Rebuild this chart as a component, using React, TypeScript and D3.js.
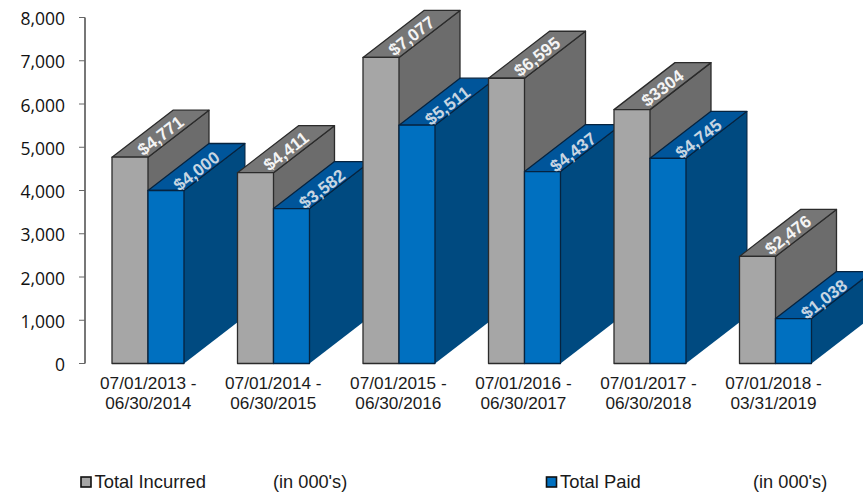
import React from "react";
import * as d3 from "d3";

const periods = [
  ["07/01/2013 -", "06/30/2014"],
  ["07/01/2014 -", "06/30/2015"],
  ["07/01/2015 -", "06/30/2016"],
  ["07/01/2016 -", "06/30/2017"],
  ["07/01/2017 -", "06/30/2018"],
  ["07/01/2018 -", "03/31/2019"],
];
// Plotted heights. The 2017-18 incurred column stands near 5,870 although it is printed as $3304.
const incurredHeights = [4771, 4411, 7077, 6595, 5870, 2476];
const incurredLabels = ["$4,771", "$4,411", "$7,077", "$6,595", "$3304", "$2,476"];
const paidValues = [4000, 3582, 5511, 4437, 4745, 1038];
const paidLabels = ["$4,000", "$3,582", "$5,511", "$4,437", "$4,745", "$1,038"];
const yTicks = [0, 1000, 2000, 3000, 4000, 5000, 6000, 7000, 8000];
const seriesKeys = ["incurred", "paid"];

const WIDTH = 863;
const HEIGHT = 494;
const DX = 61; // oblique depth of each column
const DY = -47;
const SANS = "'Liberation Sans', Arial, sans-serif";

const palette = {
  incurred: { front: "#a6a6a6", top: "#767676", side: "#6c6c6c", edge: "#2b2b2b", label: "#f4f4f4" },
  paid: { front: "#0070c0", top: "#00559a", side: "#004a80", edge: "#06233f", label: "#c8d6e2" },
};

const y = d3.scaleLinear().domain([0, 8000]).range([363.5, 17.5]);
const xGroup = d3.scaleBand<number>().domain(d3.range(periods.length)).range([85.25, 838.25]);
const xSeries = d3.scaleBand<string>().domain(seriesKeys).range([-36, 36]);
// Category labels run on a slightly tighter pitch than the columns.
const xCategory = d3.scalePoint<number>().domain(d3.range(periods.length)).range([148.3, 773.5]);
const poly = d3.line();

function Column({ x0, value, series }: { x0: number; value: number; series: "incurred" | "paid" }) {
  const c = palette[series];
  const x1 = x0 + xSeries.bandwidth();
  const yT = y(value);
  const yB = y(0);
  return (
    <g stroke={c.edge} strokeWidth={1.3} strokeLinejoin="round">
      <path d={poly([[x1, yB], [x1 + DX, yB + DY], [x1 + DX, yT + DY], [x1, yT]])!} fill={c.side} stroke="none" />
      <path d={poly([[x1, yT], [x1 + DX, yT + DY], [x1 + DX, yB + DY]])!} fill="none" strokeWidth={series === "paid" ? 1 : 1.3} />
      <path d={poly([[x0, yT], [x0 + DX, yT + DY], [x1 + DX, yT + DY], [x1, yT]])! + "Z"} fill={c.top} />
      <rect x={x0} y={yT} width={x1 - x0} height={yB - yT} fill={c.front} />
    </g>
  );
}

function TopLabel({ x0, value, text, series }: { x0: number; value: number; text: string; series: "incurred" | "paid" }) {
  const angle = (Math.atan2(DY, DX) * 180) / Math.PI;
  const cx = x0 + xSeries.bandwidth() / 2 + DX / 2;
  const cy = y(value) + DY / 2 + (series === "paid" ? 4 : 2);
  return (
    <text
      transform={`translate(${cx},${cy}) rotate(${angle})`}
      textAnchor="middle"
      dominantBaseline="central"
      fontFamily={SANS}
      fontWeight={700}
      fontSize={17.2}
      fill={palette[series].label}
    >
      {text}
    </text>
  );
}

export default function App() {
  return (
    <svg
      width={WIDTH}
      height={HEIGHT}
      viewBox={`0 0 ${WIDTH} ${HEIGHT}`}
      style={{ position: "absolute", left: 0, top: 0, background: "#fff" }}
    >
      {/* value axis */}
      <line x1={85} x2={85} y1={y(8000)} y2={y(0)} stroke="#555" strokeWidth={1.6} />
      {yTicks.map((t) => (
        <g key={t}>
          <line x1={79} x2={85} y1={y(t)} y2={y(t)} stroke="#666" strokeWidth={1} />
          <text x={65} y={y(t) + 0.5} textAnchor="end" dominantBaseline="central" fontFamily="'Open Sans', sans-serif" fontSize={17.5} fill="#111">
            {d3.format(",")(t)}
          </text>
        </g>
      ))}

      {/* columns, painted left to right so nearer groups overlap */}
      {periods.map((_, i) => {
        const cx = xGroup(i)! + xGroup.bandwidth() / 2;
        return (
          <g key={i}>
            <Column x0={cx + xSeries("incurred")!} value={incurredHeights[i]} series="incurred" />
            <Column x0={cx + xSeries("paid")!} value={paidValues[i]} series="paid" />
          </g>
        );
      })}

      {/* value labels lie along the column tops */}
      {periods.map((_, i) => {
        const cx = xGroup(i)! + xGroup.bandwidth() / 2;
        return (
          <g key={i}>
            <TopLabel x0={cx + xSeries("incurred")!} value={incurredHeights[i]} text={incurredLabels[i]} series="incurred" />
            <TopLabel x0={cx + xSeries("paid")!} value={paidValues[i]} text={paidLabels[i]} series="paid" />
          </g>
        );
      })}

      {/* category labels */}
      {periods.map((lines, i) => (
        <text key={i} textAnchor="middle" fontFamily={SANS} fontSize={17.2} fill="#1a1a1a">
          <tspan x={xCategory(i)} y={389}>{lines[0]}</tspan>
          <tspan x={xCategory(i)} y={409}>{lines[1]}</tspan>
        </text>
      ))}

      {/* legend */}
      <rect x={81} y={477} width={10} height={10} fill={palette.incurred.front} stroke="#111" strokeWidth={1.6} />
      <text x={94.5} y={488} fontFamily={SANS} fontSize={18.4} fill="#1a1a1a">Total Incurred</text>
      <text x={273} y={488} fontFamily={SANS} fontSize={18.2} fill="#1a1a1a">(in 000's)</text>
      <rect x={546.5} y={477} width={10} height={10} fill={palette.paid.front} stroke="#111" strokeWidth={1.6} />
      <text x={560} y={488} fontFamily={SANS} fontSize={18.4} fill="#1a1a1a">Total Paid</text>
      <text x={753} y={488} fontFamily={SANS} fontSize={18.2} fill="#1a1a1a">(in 000's)</text>
    </svg>
  );
}
